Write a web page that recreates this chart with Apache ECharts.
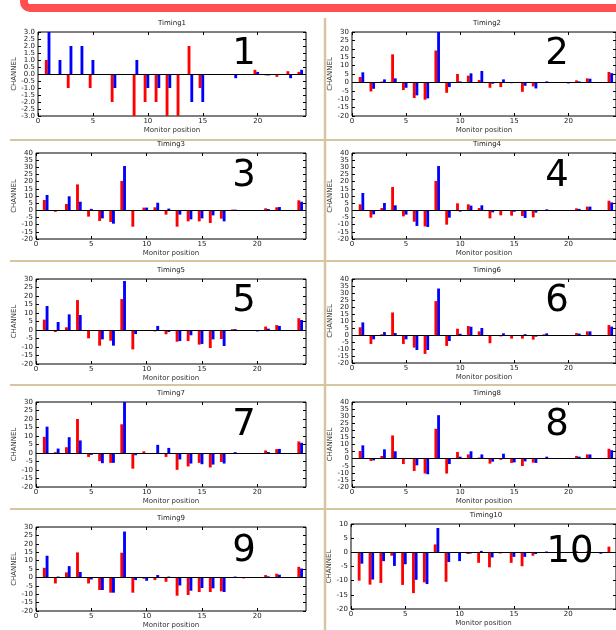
<!DOCTYPE html>
<html><head><meta charset="utf-8">
<script src="https://cdn.jsdelivr.net/npm/echarts@6/dist/echarts.min.js"></script>
<style>html,body{margin:0;padding:0;background:#fff}#c{width:616px;height:630px}</style>
</head><body><div id="c"></div>
<script>
// ---------- DATA ----------
const positions = [1,2,3,4,5,6,7,8,9,10,11,12,13,14,15,16,17,18,19,20,21,22,23,24];
const xTicks = [0,5,10,15,20];
const titles = ['Timing1','Timing2','Timing3','Timing4','Timing5','Timing6','Timing7','Timing8','Timing9','Timing10'];
const panelNumbers = ['1','2','3','4','5','6','7','8','9','10'];
const yTicksA = [-3.0,-2.5,-2.0,-1.5,-1.0,-0.5,0.0,0.5,1.0,1.5,2.0,2.5,3.0];
const yTicksB = [-20,-15,-10,-5,0,5,10,15,20,25,30];
const yTicksC = [-20,-15,-10,-5,0,5,10,15,20,25,30,35,40];
const yTicksD = [-20,-15,-10,-5,0,5,10];

const red1  = [1.0,0,-1.0,0,-1.0,0,-2.0,0,-3.0,-2.0,-2.0,-3.0,-3.0,2.0,-1.0,0,0,0,0,0.3,-0.1,-0.2,0.2,0.15];
const blue1 = [3.0,1.0,2.0,2.0,1.0,0,-1.0,0,1.0,-1.0,-1.0,-1.0,0,-2.0,-2.0,0,0,-0.3,0,0.15,-0.1,0,-0.3,0.3];
const red2  = [3.2,-5.4,0.5,16.7,-4.6,-9.3,-10.3,19.0,-6.2,5.0,4.0,1.4,-3.2,-2.8,-0.5,-5.6,-2.4,0,0,0,1.2,2.4,0,6.2];
const blue2 = [6.0,-3.8,1.8,2.4,-3.2,-7.7,-9.5,30.0,-2.8,0.6,5.4,6.8,-0.8,1.8,0,-2.0,-3.6,0.6,0,-0.6,0.6,2.2,0,5.5];
const red3  = [7.2,-1.0,4.4,18.1,-4.4,-7.4,-8.1,20.5,-11.4,1.9,2.1,-3.0,-11.4,-7.7,-7.7,-8.8,-5.8,0.5,0,0,1.4,2.1,0,7.0];
const blue3 = [10.7,0,9.8,6.0,1.0,-5.6,-9.3,30.9,0,1.9,5.3,1.2,-3.0,-6.3,-5.6,-3.5,-7.7,0.5,0,0,0.9,2.3,0,6.0];
const red4  = [4.2,-5.1,1.6,16.3,-4.2,-7.9,-11.2,20.5,-10.0,4.9,4.2,1.6,-5.6,-3.5,-3.7,-4.0,-4.9,0,0,0,1.4,2.6,0,6.7];
const blue4 = [12.1,-2.8,5.1,3.5,-3.0,-10.9,-11.6,30.9,-5.1,-0.9,3.3,3.5,-1.4,0,-1.0,-5.3,-1.6,0.7,0,0,1.0,2.6,0,5.5];
const red5  = [6.1,-1.2,1.6,17.6,-4.9,-9.2,-6.3,18.2,-11.4,0,-0.8,-2.5,-6.9,-6.5,-8.6,-10.6,-5.3,0.5,0,0,2.0,2.9,0,6.9];
const blue5 = [14.1,4.7,9.2,8.8,0,-5.5,-9.2,28.8,-2.4,0,2.4,-1.2,-6.5,-3.1,-8.2,-5.5,-9.4,0.5,0,-0.8,0.8,2.4,0,5.9];
const red6  = [5.5,-6.4,0.5,16.1,-6.4,-9.0,-13.5,24.2,-7.8,4.5,6.4,2.6,-5.9,-1.0,-2.6,-2.6,-3.3,0.5,0,0,1.4,2.6,0,7.1];
const blue6 = [9.0,-3.1,2.1,1.4,-3.1,-10.7,-10.7,33.2,-4.3,0.9,5.9,5.0,0,1.2,0,0.6,-1.2,1.2,0,0,1.0,2.6,0,6.0];
const red7  = [9.5,0.5,3.4,20.0,-2.3,-4.8,-5.8,16.9,-9.2,1.0,0,-2.3,-9.9,-7.9,-5.8,-8.5,-5.3,0,0,0,1.5,2.3,0,6.8];
const blue7 = [15.5,2.6,9.3,7.4,-1.1,-6.0,-5.8,30.0,-1.3,0,4.8,3.0,-3.8,-6.2,-6.6,-6.8,-6.2,0.5,0,0,0.6,2.4,0,6.0];
const red8  = [5.4,-1.6,1.9,16.4,-3.8,-8.7,-10.5,21.1,-10.5,4.7,3.0,0.8,-3.5,-0.8,-3.0,-5.2,-2.8,0,0,0,1.9,3.0,0,7.0];
const blue8 = [9.4,-1.2,6.6,5.2,0,-4.7,-11.0,30.7,-3.8,1.4,5.2,3.0,-2.1,3.5,-2.6,-1.9,-3.0,1.4,0,0,1.4,3.0,0,6.0];
const red9  = [5.7,-3.6,3.0,14.9,-3.6,-7.5,-9.1,14.7,-9.1,-0.8,-1.6,-2.6,-10.9,-10.5,-8.7,-8.7,-8.3,0,-0.6,0,1.4,2.2,0,6.3];
const blue9 = [12.9,0.5,6.7,3.2,-1.2,-7.5,-9.1,27.3,-1.6,-2.0,1.4,0.5,-4.8,-7.9,-6.3,-6.5,-8.7,0.5,0,0,0.6,1.6,0,5.3];
const red10 = [-10.0,-11.4,-10.8,-1.2,-11.5,-14.4,-10.6,2.8,-10.4,0,-0.6,-3.7,-5.3,-0.4,-3.7,-4.9,-1.2,0,0,0,0.4,0.3,0,2.0];
const blue10= [-4.0,-9.6,-3.1,-4.8,-4.2,-9.7,-11.2,8.6,-3.4,-3.1,-0.4,0.5,-1.8,0,-1.6,-1.6,-0.6,0.3,0,0,0,0,-0.5,0];

const reds  = [red1,red2,red3,red4,red5,red6,red7,red8,red9,red10];
const blues = [blue1,blue2,blue3,blue4,blue5,blue6,blue7,blue8,blue9,blue10];
const yTickSets = [yTicksA,yTicksB,yTicksC,yTicksC,yTicksB,yTicksC,yTicksB,yTicksC,yTicksB,yTicksD];

// ---------- LAYOUT / STYLE ----------
const X_MAX = 24.4;
const BAR_W = 0.26;
const RED_OFFSET = -0.25;
const FONT = 'DejaVu Sans';
const layout = [
  {left:38,  top:32,  width:268, height:84, dec:1, num:[244,54]},
  {left:352, top:32,  width:270, height:84, dec:0, num:[557,54]},
  {left:36,  top:153, width:270, height:86, dec:0, num:[244,176]},
  {left:352, top:153, width:270, height:86, dec:0, num:[557,176]},
  {left:36,  top:279, width:270, height:85, dec:0, num:[244,301]},
  {left:352, top:279, width:270, height:84, dec:0, num:[557,301]},
  {left:36,  top:402, width:270, height:85, dec:0, num:[244,425]},
  {left:352, top:402, width:270, height:85, dec:0, num:[557,425]},
  {left:36,  top:527, width:270, height:84, dec:0, num:[244,551]},
  {left:351, top:524, width:270, height:85, dec:0, num:[570,552]}
];

function barRenderer(color, offset) {
  return function (params, api) {
    const x = api.value(0) + offset;
    const v = api.value(1);
    if (!v) return null;
    const a = api.coord([x - BAR_W / 2, v]);
    const b = api.coord([x + BAR_W / 2, 0]);
    const cs = params.coordSys;
    let y0 = Math.min(a[1], b[1]), y1 = Math.max(a[1], b[1]);
    y0 = Math.max(y0, cs.y); y1 = Math.min(y1, cs.y + cs.height);
    return {type:'rect', shape:{x:a[0], y:y0, width:b[0]-a[0], height:y1-y0}, style:{fill:color}};
  };
}

const chart = echarts.init(document.getElementById('c'), null, {renderer:'canvas', width:616, height:630});
const option = {animation:false, backgroundColor:'#fff', title:[], grid:[], xAxis:[], yAxis:[], series:[], graphic:[]};

const tickStyle = {show:true, inside:true, length:3, lineStyle:{color:'#000', width:1}};
const tickFont = {fontSize:7, color:'#1a1a1a', fontFamily:FONT};

layout.forEach((L, i) => {
  const yt = yTickSets[i];
  const isLeft = L.left < 200;
  option.grid.push({left:L.left, top:L.top, width:L.width, height:L.height, show:true,
    borderColor:'#000', borderWidth:1, backgroundColor:'transparent'});
  option.title.push({text:titles[i], left:L.left + L.width/2, top:L.top - 12, textAlign:'center', padding:0,
    textStyle:{fontSize:7, fontWeight:'normal', color:'#222', fontFamily:FONT}});
  const common = {gridIndex:i, type:'value', splitLine:{show:false}, axisLine:{show:false, onZero:false}};
  option.xAxis.push(Object.assign({}, common, {min:0, max:X_MAX, interval:5, position:'bottom',
    axisTick:Object.assign({customValues:xTicks}, tickStyle),
    axisLabel:Object.assign({customValues:xTicks, margin:2}, tickFont),
    name:'Monitor position', nameLocation:'middle', nameGap:11,
    nameTextStyle:{fontSize:7, color:'#333', fontFamily:FONT}}));
  option.xAxis.push(Object.assign({}, common, {min:0, max:X_MAX, interval:5, position:'top',
    axisTick:Object.assign({customValues:xTicks}, tickStyle), axisLabel:{show:false}}));
  const yMin = yt[0], yMax = yt[yt.length-1], step = yt[1]-yt[0];
  const cx = isLeft ? 14 : 330.7;
  option.yAxis.push(Object.assign({}, common, {min:yMin, max:yMax, interval:step, position:'left',
    axisTick:Object.assign({customValues:yt}, tickStyle),
    axisLabel:Object.assign({customValues:yt, margin:3,
      formatter:(v) => Number(v).toFixed(L.dec)}, tickFont),
    name:'CHANNEL', nameLocation:'middle', nameRotate:90, nameGap:L.left - cx - 4,
    nameTextStyle:{fontSize:7, color:'#333', fontFamily:FONT}}));
  option.yAxis.push(Object.assign({}, common, {min:yMin, max:yMax, interval:step, position:'right',
    axisTick:Object.assign({customValues:yt}, tickStyle), axisLabel:{show:false}}));

  option.series.push({type:'custom', name:'red'+(i+1), xAxisIndex:2*i, yAxisIndex:2*i, z:2,
    renderItem:barRenderer('#ff0000', RED_OFFSET), encode:{x:0, y:1},
    data:positions.map((p,k) => [p, reds[i][k]]),
    markLine:{silent:true, symbol:['none','none'], label:{show:false}, animation:false,
      lineStyle:{color:'#000', width:1, type:'solid'}, data:[{yAxis:0}]}});
  option.series.push({type:'custom', name:'blue'+(i+1), xAxisIndex:2*i, yAxisIndex:2*i, z:2,
    renderItem:barRenderer('#0000ff', 0), encode:{x:0, y:1},
    data:positions.map((p,k) => [p, blues[i][k]])});

  option.graphic.push({type:'text', x:L.num[0], y:L.num[1], z:100,
    style:{text:panelNumbers[i], fontSize:37, fontFamily:FONT, fill:'#000', align:'center', verticalAlign:'middle'}});
});

// decorations: red frame and tan separators
const tan = '#d6c6a0';
option.graphic.push({type:'rect', z:90, shape:{x:24, y:-60, width:640, height:68, r:6},
  style:{fill:'none', stroke:'#ff5050', lineWidth:8}});
option.graphic.push({type:'line', z:90, shape:{x1:325, y1:18, x2:325, y2:630}, style:{stroke:tan, lineWidth:2.5}});
[140, 261, 385, 509].forEach(y => {
  option.graphic.push({type:'line', z:90, shape:{x1:10, y1:y, x2:616, y2:y}, style:{stroke:tan, lineWidth:2}});
});

chart.setOption(option);
</script>
</body></html>
